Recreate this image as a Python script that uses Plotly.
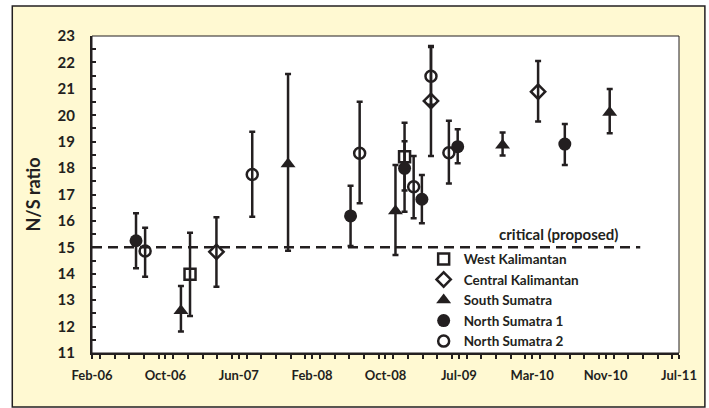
import plotly.graph_objects as go

# ---- data ----
wk_dates = ["2007-01-01", "2009-01-01"]
wk_vals = [13.98, 18.43]
wk_hi = [15.55, 19.72]
wk_lo = [12.40, 17.15]

ck_dates = ["2007-04-01", "2009-04-01", "2010-04-01"]
ck_vals = [14.83, 20.54, 20.89]
ck_hi = [16.14, 22.58, 22.05]
ck_lo = [13.51, 18.46, 19.76]

ss_dates = ["2006-12-01", "2007-12-01", "2008-12-01", "2009-12-01", "2010-12-01"]
ss_vals = [12.60, 18.15, 16.38, 18.86, 20.10]
ss_hi = [13.54, 21.56, 18.12, 19.35, 20.99]
ss_lo = [11.81, 14.87, 14.71, 18.48, 19.32]

ns1_dates = ["2006-07-01", "2008-07-01", "2009-01-01", "2009-03-01", "2009-07-01", "2010-07-01"]
ns1_vals = [15.25, 16.19, 17.99, 16.82, 18.81, 18.91]
ns1_hi = [16.29, 17.33, 19.02, 17.74, 19.47, 19.67]
ns1_lo = [14.21, 15.05, 16.35, 15.91, 18.18, 18.12]

ns2_dates = ["2006-08-01", "2007-08-01", "2008-08-01", "2009-02-01", "2009-04-01", "2009-06-01"]
ns2_vals = [14.86, 17.76, 18.56, 17.29, 21.48, 18.58]
ns2_hi = [15.74, 19.38, 20.51, 18.46, 22.62, 19.79]
ns2_lo = [13.89, 16.16, 16.67, 16.10, 20.40, 17.42]

critical_dates = ["2006-02-01", "2011-03-15"]
critical_vals = [15, 15]
critical_label = "critical (proposed)"

x_start = "2006-02-01"
x_end = "2011-07-25 02:00"
y_range = [11, 23]

INK = "#231f20"
FONT = "Lato"

fig = go.Figure()

fig.add_trace(go.Scatter(
    x=critical_dates, y=critical_vals, mode="lines",
    line=dict(color=INK, width=2.5, dash="10px,6px"),
    showlegend=False, hoverinfo="skip"))

series = [
    ("West Kalimantan", wk_dates, wk_vals, wk_hi, wk_lo,
     dict(symbol="square-open", size=11, line=dict(width=2.5, color=INK), color=INK)),
    ("Central Kalimantan", ck_dates, ck_vals, ck_hi, ck_lo,
     dict(symbol="diamond-open", size=11, line=dict(width=2.5, color=INK), color=INK)),
    ("South Sumatra", ss_dates, ss_vals, ss_hi, ss_lo,
     dict(symbol="triangle-up", size=13, color=INK, line=dict(width=0))),
    ("North Sumatra 1", ns1_dates, ns1_vals, ns1_hi, ns1_lo,
     dict(symbol="circle", size=13, color=INK, line=dict(width=0))),
    ("North Sumatra 2", ns2_dates, ns2_vals, ns2_hi, ns2_lo,
     dict(symbol="circle-open", size=11, line=dict(width=2.5, color=INK), color=INK)),
]

for name, xs, vals, hi, lo, mk in series:
    fig.add_trace(go.Scatter(
        x=xs, y=vals, mode="markers", name=name, marker=mk,
        legendgroup=name,
        error_y=dict(type="data", symmetric=False,
                     array=[h - v for h, v in zip(hi, vals)],
                     arrayminus=[v - l for v, l in zip(vals, lo)],
                     color=INK, thickness=2.5, width=3),
    ))

fig.add_annotation(x=0.794, y=0.375, xref="paper", yref="paper",
                   xanchor="center", yanchor="middle",
                   text=critical_label, showarrow=False,
                   font=dict(family=FONT, size=15, color=INK, weight="bold"))

fig.update_layout(
    width=709, height=408,
    margin=dict(l=92, r=28, t=36, b=55),
    paper_bgcolor="white",
    plot_bgcolor="rgba(0,0,0,0)",
    font=dict(family=FONT, color=INK),
    showlegend=True,
    legend=dict(x=0.565, y=0.345, xanchor="left", yanchor="top",
                bgcolor="rgba(0,0,0,0)", borderwidth=0,
                font=dict(family=FONT, size=13.5, color=INK, weight="bold"),
                tracegroupgap=0, traceorder="grouped"),
    shapes=[
        dict(type="rect", xref="paper", yref="paper",
             x0=-0.1358, x1=1.0441, y0=-0.1703, y1=1.0946,
             fillcolor="#fff9d2", line=dict(color=INK, width=1.5), layer="below"),
        dict(type="rect", xref="paper", yref="paper",
             x0=0, x1=1, y0=0, y1=1,
             fillcolor="white", line=dict(color=INK, width=1), layer="below"),
    ],
)

fig.update_xaxes(
    type="date", range=[x_start, x_end],
    tick0=x_start, dtick=250 * 86400000, tickformat="%b-%y",
    ticks="outside", ticklen=4, tickwidth=1.5, tickcolor=INK,
    minor=dict(dtick=50 * 86400000, ticks="outside", ticklen=4, tickwidth=1.5, tickcolor=INK),
    showgrid=False, zeroline=False,
    showline=True, linecolor=INK, linewidth=2,
    tickfont=dict(family=FONT, size=13, color=INK, weight="bold"),
    ticklabelstandoff=5,
)
fig.update_yaxes(
    range=y_range, dtick=1, tick0=11,
    ticks="inside", ticklen=4, tickwidth=1.5, tickcolor=INK,
    minor=dict(dtick=0.5, ticks="inside", ticklen=4, tickwidth=1.5, tickcolor=INK),
    showgrid=False, zeroline=False,
    showline=True, linecolor=INK, linewidth=2,
    tickfont=dict(family=FONT, size=15, color=INK, weight="bold"),
    ticklabelstandoff=12,
    title=dict(text="N/S ratio", standoff=12,
               font=dict(family=FONT, size=18, color=INK, weight="bold")),
)

fig.write_html("out.html", config={"displayModeBar": False},
               post_script="document.body.style.margin='0';document.body.style.overflow='hidden';")
